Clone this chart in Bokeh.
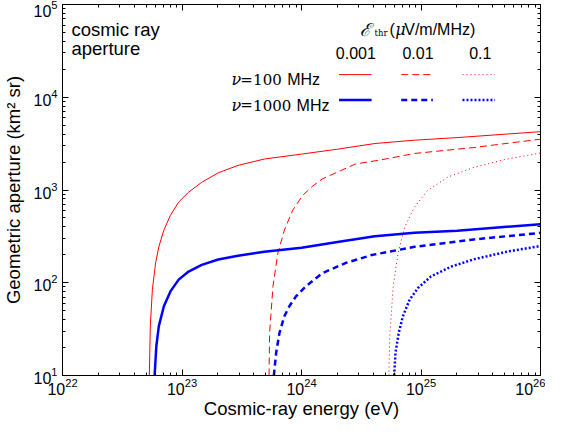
from bokeh.plotting import figure
from bokeh.models import LogAxis, FixedTicker, Label
from bokeh.embed import file_html
from bokeh.resources import INLINE

# ---- data (E in eV, aperture in km^2 sr) ----
# nu = 100 MHz, E_thr = 0.001
E_red_001 = [5.33e22, 5.43e22, 5.65e22, 6.01e22, 6.40e22, 7.05e22, 8.00e22, 9.38e22, 1.135e23, 1.462e23, 2.01e23, 2.94e23, 4.89e23, 1e24, 2e24, 4.11e24, 8.83e24, 2.01e25, 1e26]
A_red_001 = [10, 34.1, 84.1, 163, 244, 369, 533, 741, 946, 1211, 1531, 1841, 2158, 2438, 2754, 3170, 3443, 3673, 4256]
# nu = 1000 MHz, E_thr = 0.001
E_blue_001 = [5.90e22, 6.10e22, 6.40e22, 7.05e22, 8.00e22, 9.38e22, 1.135e23, 1.462e23, 2.01e23, 2.94e23, 4.89e23, 1e24, 2e24, 4.11e24, 8.83e24, 2.01e25, 1e26]
A_blue_001 = [10, 20.8, 34.1, 55.8, 80.7, 108, 132, 156, 178, 195, 216, 239, 275, 318, 345, 363, 428]
# nu = 100 MHz, E_thr = 0.01
E_red_01 = [5.35e23, 5.41e23, 5.77e23, 6.34e23, 7.19e23, 8.43e23, 1.021e24, 1.236e24, 1.496e24, 2.82e24, 4.54e24, 8.83e24, 2.77e25, 1e26]
A_red_01 = [10, 29.0, 91.2, 208, 369, 604, 873, 1099, 1318, 1905, 2104, 2477, 2871, 3532]
# nu = 1000 MHz, E_thr = 0.01
E_blue_01 = [5.87e23, 6.14e23, 6.55e23, 7.19e23, 7.91e23, 8.99e23, 1.086e24, 1.496e24, 2.33e24, 3.87e24, 8.83e24, 2.77e25, 1e26]
A_blue_01 = [10, 17.7, 29.0, 43.6, 55.8, 71.3, 91.2, 127, 163, 199, 244, 293, 345]
# nu = 100 MHz, E_thr = 0.1
E_red_1 = [5.38e24, 5.48e24, 5.85e24, 6.43e24, 7.31e24, 8.83e24, 1.138e25, 1.667e25, 2.77e25, 5.22e25, 1e26]
A_red_1 = [10, 26.7, 91.2, 208, 400, 655, 988, 1372, 1754, 2158, 2500]
# nu = 1000 MHz, E_thr = 0.1
E_blue_1 = [5.96e24, 6.12e24, 6.52e24, 7.06e24, 8.04e24, 9.42e24, 1.213e25, 1.778e25, 2.77e25, 5.22e25, 1e26]
A_blue_1 = [10, 17.7, 29.0, 43.6, 65.8, 87.7, 117, 149, 179, 216, 249]

x_decades = [22, 23, 24, 25, 26]
y_decades = [1, 2, 3, 4, 5]
thresholds = ["0.001", "0.01", "0.1"]
freq_labels = ["100", "1000"]
x_title = "Cosmic-ray energy (eV)"
y_title = "Geometric aperture (km² sr)"

RED = "#ff0000"
BLUE = "#0000ff"
SANS = "Liberation Sans"
SERIF = "DejaVu Serif"

W, H = 545, 421
BL, BR, BT, BB = 56, 5, 4, 45
p = figure(width=W, height=H, x_axis_type="log", y_axis_type="log",
           x_range=(10.0 ** x_decades[0], 10.0 ** x_decades[-1]),
           y_range=(10.0 ** y_decades[0], 10.0 ** y_decades[-1]),
           output_backend="svg", toolbar_location=None,
           min_border_left=BL, min_border_right=BR, min_border_top=BT, min_border_bottom=BB)
p.grid.visible = False
p.outline_line_color = "black"
p.background_fill_color = "white"
p.border_fill_color = "white"

xmaj = [10.0 ** d for d in x_decades]
xmin = [k * 10.0 ** d for d in x_decades[:-1] for k in range(2, 10)]
ymaj = [10.0 ** d for d in y_decades]
ymin = [k * 10.0 ** d for d in y_decades[:-1] for k in range(2, 10)]

def style(ax, labels=True):
    ax.major_tick_in = 6
    ax.major_tick_out = 0
    ax.minor_tick_in = 3
    ax.minor_tick_out = 0
    ax.axis_line_color = "black"
    ax.major_tick_line_color = "black"
    ax.minor_tick_line_color = "black"
    ax.major_label_text_font = SANS
    ax.major_label_text_color = "black"
    ax.axis_label_text_font = SANS
    ax.axis_label_text_font_size = "18.5px"
    ax.axis_label_text_font_style = "normal"
    ax.axis_label_text_color = "black"
    if labels:
        ax.major_label_text_font_size = "16px"
    else:
        ax.major_label_text_font_size = "1px"
        ax.major_label_text_alpha = 0
        ax.major_label_standoff = 0

p.xaxis.ticker = FixedTicker(ticks=xmaj, minor_ticks=xmin)
p.yaxis.ticker = FixedTicker(ticks=ymaj, minor_ticks=ymin)
style(p.xaxis[0])
style(p.yaxis[0])
p.xaxis.axis_label = x_title
p.yaxis.axis_label = y_title
p.xaxis.major_label_standoff = 2
p.xaxis.axis_label_standoff = 0
p.yaxis.major_label_standoff = 5
p.yaxis.axis_label_standoff = 6

top = LogAxis(ticker=FixedTicker(ticks=xmaj, minor_ticks=xmin))
right = LogAxis(ticker=FixedTicker(ticks=ymaj, minor_ticks=ymin))
style(top, False)
style(right, False)
p.add_layout(top, "above")
p.add_layout(right, "right")

# curves
p.line(E_red_001, A_red_001, line_color=RED, line_width=1.0)
p.line(E_red_01, A_red_01, line_color=RED, line_width=1.0, line_dash="7 4")
p.line(E_red_1, A_red_1, line_color=RED, line_width=1.0, line_dash="1 3")
p.line(E_blue_001, A_blue_001, line_color=BLUE, line_width=2.5)
p.line(E_blue_01, A_blue_01, line_color=BLUE, line_width=2.5, line_dash="6 4")
p.line(E_blue_1, A_blue_1, line_color=BLUE, line_width=2.5, line_dash="2 2")

# ---- legend-like annotations (page-pixel layout converted to data coords) ----
# measured frame in the page: left 64, right 548, top ~12, bottom ~377
L0, R0, T0, B0 = 64, 548, 12, 377
def dx(px):
    return 10.0 ** (x_decades[0] + (px - L0) / (R0 - L0) * (x_decades[-1] - x_decades[0]))
def dy(py):
    return 10.0 ** (y_decades[0] + (B0 - py) / (B0 - T0) * (y_decades[-1] - y_decades[0]))

def txt(px, py, s, font=SANS, size="18px", style="normal", align="left"):
    p.add_layout(Label(x=dx(px), y=dy(py), text=s, text_font=font, text_font_size=size,
                       text_font_style=style, text_align=align, text_baseline="alphabetic",
                       text_color="black"))

txt(73, 37, "cosmic ray", size="18.5px")
txt(73, 55, "aperture", size="18.5px")

# E_thr header
txt(365, 37, "ℰ", font=SERIF, size="18px", style="italic")
txt(380, 40, "thr", font=SERIF, size="8.5px")
txt(395, 37, "(", size="16px")
txt(401, 37, "μ", font=SERIF, size="16px", style="italic")
txt(410, 37, "V/m/MHz)", size="16px")

col_x = [361, 424, 487]
for cx, t in zip(col_x, thresholds):
    txt(cx, 60, t, size="16px", align="center")

row_y = [81, 106]
for ry, f in zip(row_y, freq_labels):
    txt(235, ry + 5, "ν", font=SERIF, size="16px", style="italic")
    txt(244, ry + 5, "=", font=SERIF, size="15px")
    txt(257, ry + 5, f, font=SERIF, size="15px")
    txt(257 + 9.5 * len(f) + 6, ry + 5, "MHz", size="16px")

seg_x = [(344, 377), (407, 439), (469, 502)]
dashes = ["solid", "7 4", "1 3"]
bdashes = ["solid", "6 4", "2 2"]
for (a, b), d1, d2 in zip(seg_x, dashes, bdashes):
    p.line([dx(a), dx(b)], [dy(row_y[0])] * 2, line_color=RED, line_width=1.0, line_dash=d1)
    p.line([dx(a), dx(b)], [dy(row_y[1])] * 2, line_color=BLUE, line_width=2.5, line_dash=d2)

open("out.html", "w").write(file_html(p, INLINE))
